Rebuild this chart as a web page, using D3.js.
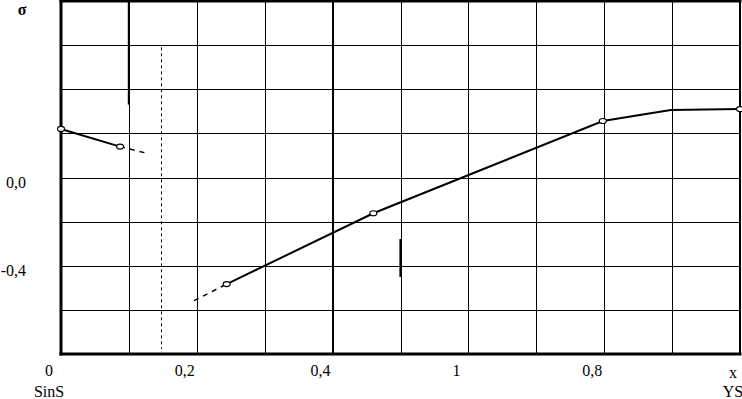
<!DOCTYPE html>
<html>
<head>
<meta charset="utf-8">
<script src="https://cdn.jsdelivr.net/npm/d3@7/dist/d3.min.js"></script>
<style>
  html, body { margin: 0; padding: 0; background: #fff; }
  svg { display: block; }
</style>
</head>
<body>
<svg id="chart" width="742" height="399"></svg>
<script>
// ---- data ----
const xTickValues = [0, 0.2, 0.4, 0.6, 0.8];
const xTickLabels = ["0", "0,2", "0,4", "1", "0,8"];
const yTickValues = [0, -0.4];
const yTickLabels = ["0,0", "-0,4"];
const yAxisTitle = "σ";
const xAxisEndLabel = "x";
const xSubLabelLeft = "SinS";
const xSubLabelRight = "YS";

// series A (left branch)
const seriesAX = [0, 0.087];
const seriesAY = [0.22, 0.14];
const seriesAExtX = [0.087, 0.125];
const seriesAExtY = [0.14, 0.111];

// series B (main branch)
const seriesBX = [0.244, 0.46, 0.798, 0.898, 1.0];
const seriesBY = [-0.483, -0.162, 0.256, 0.306, 0.31];
const seriesBMarked = [true, true, true, false, true];
const seriesBExtX = [0.196, 0.244];
const seriesBExtY = [-0.558, -0.483];

// reference marks
const dashedRefX = 0.148, dashedRefY = [0.59, -0.777];
const thickSegX = [0.1, 0.5];
const thickSegY0 = [0.8, -0.279];
const thickSegY1 = [0.33, -0.451];

// ---- drawing ----
const FONT = "'Liberation Serif', 'Times New Roman', serif";
const svg = d3.select("#chart");
const x = d3.scaleLinear().domain([0, 1]).range([61, 740]);
const y = d3.scaleLinear().domain([-0.8, 0.8]).range([354, 1]);

const g = svg.append("g");

// grid via axes
g.append("g")
  .attr("transform", `translate(0,${y(-0.8)})`)
  .call(d3.axisBottom(x).tickValues(d3.range(1, 10).map(i => i / 10)).tickSize(-(y(-0.8) - y(0.8))).tickFormat(""))
  .call(s => s.select(".domain").remove())
  .call(s => s.selectAll("line").attr("stroke", "#000").attr("stroke-width", d => Math.abs(d - 0.4) < 1e-9 ? 2 : 1).attr("shape-rendering", "crispEdges"));

g.append("g")
  .attr("transform", `translate(${x(0)},0)`)
  .call(d3.axisLeft(y).tickValues(d3.range(-3, 4).map(i => i * 0.2)).tickSize(-(x(1) - x(0))).tickFormat(""))
  .call(s => s.select(".domain").remove())
  .call(s => s.selectAll("line").attr("stroke", "#000").attr("stroke-width", 1).attr("shape-rendering", "crispEdges"));

// frame
const frame = [
  {x1: x(0), y1: y(0.8), x2: x(1), y2: y(0.8), w: 3},
  {x1: x(0), y1: y(-0.8), x2: x(1), y2: y(-0.8), w: 3},
  {x1: x(0), y1: y(0.8), x2: x(0), y2: y(-0.8), w: 3},
  {x1: x(1), y1: y(0.8), x2: x(1), y2: y(-0.8), w: 2}
];
g.selectAll(".frame").data(frame).join("line")
  .attr("x1", d => d.x1).attr("y1", d => d.y1).attr("x2", d => d.x2).attr("y2", d => d.y2)
  .attr("stroke", "#000").attr("stroke-width", d => d.w).attr("stroke-linecap", "square");

// thick partial segments
thickSegX.forEach((sx, i) => {
  g.append("line")
    .attr("x1", x(sx)).attr("x2", x(sx))
    .attr("y1", y(thickSegY0[i])).attr("y2", y(thickSegY1[i]))
    .attr("stroke", "#000").attr("stroke-width", 2.2);
});

// dashed reference vertical
g.append("line")
  .attr("x1", x(dashedRefX)).attr("x2", x(dashedRefX))
  .attr("y1", y(dashedRefY[0])).attr("y2", y(dashedRefY[1]))
  .attr("stroke", "#000").attr("stroke-width", 1).attr("stroke-dasharray", "3,3");

// lines
const line = d3.line().x(d => x(d[0])).y(d => y(d[1]));
const zip = (a, b) => a.map((v, i) => [v, b[i]]);

g.append("path").datum(zip(seriesAExtX, seriesAExtY)).attr("d", line)
  .attr("fill", "none").attr("stroke", "#000").attr("stroke-width", 1.5).attr("stroke-dasharray", "5,5");
g.append("path").datum(zip(seriesBExtX, seriesBExtY)).attr("d", line)
  .attr("fill", "none").attr("stroke", "#000").attr("stroke-width", 1.5).attr("stroke-dasharray", "5,5");

g.append("path").datum(zip(seriesAX, seriesAY)).attr("d", line)
  .attr("fill", "none").attr("stroke", "#000").attr("stroke-width", 2);
g.append("path").datum(zip(seriesBX, seriesBY)).attr("d", line)
  .attr("fill", "none").attr("stroke", "#000").attr("stroke-width", 2);

// markers
const markers = zip(seriesAX, seriesAY).concat(zip(seriesBX, seriesBY).filter((d, i) => seriesBMarked[i]));
g.selectAll(".mk").data(markers).join("ellipse")
  .attr("cx", d => x(d[0])).attr("cy", d => y(d[1]))
  .attr("rx", 3.5).attr("ry", 2.5)
  .attr("fill", "#fff").attr("stroke", "#000").attr("stroke-width", 1.2);

// labels
const fs = 16;
const txt = sel => sel.attr("font-family", FONT).attr("font-size", fs).attr("fill", "#000");
g.selectAll(".xl").data(xTickValues).join("text")
  .attr("x", d => x(d) - 12).attr("y", 376)
  .attr("text-anchor", "middle").call(txt)
  .text((d, i) => xTickLabels[i]);

g.selectAll(".yl").data(yTickValues).join("text")
  .attr("x", 26).attr("y", d => y(d) + 10)
  .attr("text-anchor", "end").call(txt)
  .text((d, i) => yTickLabels[i]);

g.append("text").attr("x", 22).attr("y", 15).attr("text-anchor", "middle").call(txt).attr("font-weight", "bold").text(yAxisTitle);
g.append("text").attr("x", 733).attr("y", 378).attr("text-anchor", "middle").call(txt).text(xAxisEndLabel);
g.append("text").attr("x", 49).attr("y", 397).attr("text-anchor", "middle").call(txt).text(xSubLabelLeft);
g.append("text").attr("x", 733).attr("y", 397).attr("text-anchor", "middle").call(txt).text(xSubLabelRight);
</script>
</body>
</html>
